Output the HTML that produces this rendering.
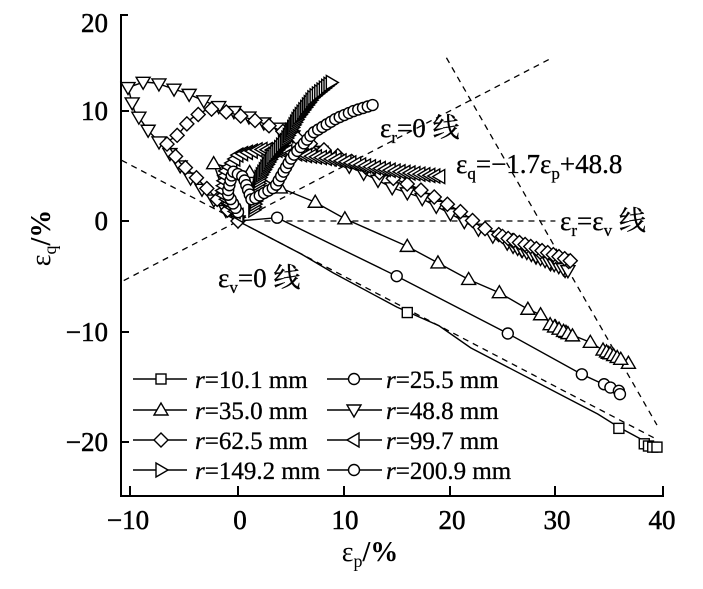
<!DOCTYPE html>
<html><head><meta charset="utf-8"><style>
html,body{margin:0;padding:0;background:#fff;}
svg{display:block;font-family:"Liberation Serif","Noto Serif CJK SC",serif;}
</style></head><body>
<svg id="s" width="703" height="589" viewBox="0 0 703 589" xmlns="http://www.w3.org/2000/svg">
<g id="plot" fill="none" stroke="#000" stroke-width="1.4"></g>
<g stroke="#000" stroke-width="2" fill="none">
<polyline points="128,15 121,15 121,496 663,496 663,486"/>
<line x1="121" y1="111" x2="129" y2="111"/><line x1="121" y1="221" x2="129" y2="221"/>
<line x1="121" y1="332" x2="129" y2="332"/><line x1="121" y1="442" x2="129" y2="442"/>
<line x1="130" y1="496" x2="130" y2="486"/><line x1="238" y1="496" x2="238" y2="486"/>
<line x1="344" y1="496" x2="344" y2="486"/><line x1="450" y1="496" x2="450" y2="486"/>
<line x1="555" y1="496" x2="555" y2="486"/>
</g>
<g font-size="27" fill="#000" stroke="#000" stroke-width="0.5" text-anchor="end">
<text x="108" y="32">20</text><text x="108" y="120">10</text><text x="108" y="230">0</text>
<text x="108" y="341">−10</text><text x="108" y="451">−20</text>
</g>
<g font-size="27" fill="#000" stroke="#000" stroke-width="0.5" text-anchor="middle">
<text x="128" y="529">−10</text><text x="240" y="529">0</text><text x="345" y="529">10</text>
<text x="452" y="529">20</text><text x="557" y="529">30</text><text x="662" y="529">40</text>
</g>
<text x="370" y="561" font-size="28" text-anchor="middle">ε<tspan font-size="18" dy="6">p</tspan><tspan dy="-6" font-weight="bold">/%</tspan></text>
<text transform="translate(50,238) rotate(-90)" font-size="28" text-anchor="middle">ε<tspan font-size="18" dy="6">q</tspan><tspan dy="-6" font-weight="bold">/%</tspan></text>
<g font-size="27" fill="#000" stroke="#000" stroke-width="0.3">
<text x="380" y="137">ε<tspan font-size="17" dy="6">r</tspan><tspan dy="-6">=0 线</tspan></text>
<text x="456" y="173">ε<tspan font-size="17" dy="6">q</tspan><tspan dy="-6">=−1.7ε</tspan><tspan font-size="17" dy="6">p</tspan><tspan dy="-6">+48.8</tspan></text>
<text x="560" y="230">ε<tspan font-size="17" dy="6">r</tspan><tspan dy="-6">=ε</tspan><tspan font-size="17" dy="6">v</tspan><tspan dy="-6"> 线</tspan></text>
<text x="218" y="287">ε<tspan font-size="17" dy="6">v</tspan><tspan dy="-6">=0 线</tspan></text>
</g>
<g font-size="25" fill="#000" stroke="#000" stroke-width="0.3">
<text x="195" y="388"><tspan font-style="italic">r</tspan>=10.1 mm</text>
<text x="386" y="388"><tspan font-style="italic">r</tspan>=25.5 mm</text>
<text x="195" y="419"><tspan font-style="italic">r</tspan>=35.0 mm</text>
<text x="386" y="419"><tspan font-style="italic">r</tspan>=48.8 mm</text>
<text x="195" y="449"><tspan font-style="italic">r</tspan>=62.5 mm</text>
<text x="386" y="449"><tspan font-style="italic">r</tspan>=99.7 mm</text>
<text x="195" y="479"><tspan font-style="italic">r</tspan>=149.2 mm</text>
<text x="386" y="479"><tspan font-style="italic">r</tspan>=200.9 mm</text>
</g>
</svg>
<script>
(function(){
var NS="http://www.w3.org/2000/svg",g=document.getElementById("plot");
function X(v){return 238+10.58*v;} function Y(v){return 221-11.03*v;}
function el(n,a){var e=document.createElementNS(NS,n);for(var k in a)e.setAttribute(k,a[k]);g.appendChild(e);return e;}
function pl(pts,dash){el("polyline",{points:pts.map(function(p){return X(p[0])+","+Y(p[1]);}).join(" "),"stroke-dasharray":dash?"6,5":"none","stroke-width":dash?"1.3":"1.4"});}
function mk(t,x,y){
 if(t=="sq")el("rect",{x:x-5,y:y-5,width:10,height:10,fill:"#fff"});
 else if(t=="ci")el("circle",{cx:x,cy:y,r:5.5,fill:"#fff"});
 else{var p;
  if(t=="up")p=[[x,y-7],[x-7,y+5],[x+7,y+5]];
  if(t=="dn")p=[[x,y+7],[x-7,y-5],[x+7,y-5]];
  if(t=="lt")p=[[x-7,y],[x+5,y-7],[x+5,y+7]];
  if(t=="rt")p=[[x+7,y],[x-5,y-7],[x-5,y+7]];
  if(t=="di")p=[[x,y-7],[x+7,y],[x,y+7],[x-7,y]];
  el("polygon",{points:p.join(" "),fill:"#fff"});}
}
function series(t,pts,step,line){
 if(line)pl(pts);
 var acc=step;
 for(var i=0;i<pts.length-1;i++){
  var x1=X(pts[i][0]),y1=Y(pts[i][1]),x2=X(pts[i+1][0]),y2=Y(pts[i+1][1]);
  var d=Math.hypot(x2-x1,y2-y1);var pos=step-acc;
  while(pos<=d){mk(t,x1+(x2-x1)*pos/d,y1+(y2-y1)*pos/d);pos+=step;}
  acc=d-(pos-step);
 }
}
pl([[-10.8,-5.4],[29.7,14.8]],1);
pl([[-11,5.5],[0,0],[39.6,-19.8]],1);
pl([[2.5,0],[30,0]],1);
pl([[19.7,14.8],[39.6,-18.5]],1);
pl([[0,0],[6,-3],[9,-4.7],[15,-7.8],[19,-9.5],[22,-11.5],[34,-17.5],[36,-18.7],[39.5,-20.5]]);
[[16,-8.3],[36,-18.8],[38.4,-20.2],[38.8,-20.4],[39.2,-20.5],[39.6,-20.5]].forEach(function(p){mk("sq",X(p[0]),Y(p[1]));});
pl([[0,0],[3.7,0.3],[15,-5],[25.5,-10.2],[32.5,-13.9],[35,-15],[36,-15.5]]);
[[3.7,0.3],[15,-5],[25.5,-10.2],[32.5,-13.9],[34.6,-14.8],[35.2,-15.1],[36,-15.4],[36.1,-15.7]].forEach(function(p){mk("ci",X(p[0]),Y(p[1]));});
var t35=[[0,0],[-1.5,3],[-2.3,5.2],[1.1,4.4],[4,3],[7.3,1.7],[10.1,0.2],[16,-2.3],[18.9,-3.8],[21.8,-5.3],[24.7,-6.5],[27.4,-8],[28.6,-8.5],[30,-9.6],[31,-10.1],[33.3,-11],[35,-12],[36.9,-12.9]];
pl(t35);
t35.slice(2).forEach(function(p){mk("up",X(p[0]),Y(p[1]));});
series("up",[[29.5,-9.4],[32,-10.6]],5);series("up",[[34.5,-11.7],[36.5,-12.7]],4);
var t48=[[0,0],[-1.2,1],[-3,2.5],[-4.6,4],[-6.6,6.3],[-8.4,8.1],[-9.8,10],[-10.4,12.1],[-8.9,12.6],[-7.7,12.5],[-6.2,12],[-4.9,11.6],[-3,10.8],[-1.9,10.4],[0.6,9.6],[2.1,9],[3.9,8.4],[7.1,6.7],[10,5.2],[13.2,3.7],[14.6,3],[17.1,2.2],[18.2,1.6],[20,0.7],[22.2,-0.5],[25,-1.8],[28,-3.2],[31.4,-4.7]];
series("dn",t48,16,true);series("dn",[[26,-2.3],[31.4,-4.6]],5);
var t62=[[0,0],[-2,2],[-4,4],[-5.5,5.3],[-6.8,7.1],[-5.7,7.8],[-4.4,9.3],[-2.8,10.2],[-0.7,9.8],[2,9],[4.3,8.1],[8.7,6.2],[13.3,4.4],[16.9,3],[19.1,1.9],[21.3,0.7],[22.9,-0.5],[26,-1.8],[29,-3],[31.7,-3.8]];
series("di",t62,15,true);series("di",[[25,-1.4],[31.7,-3.7]],6);
var t99=[[0,0.5],[-1.5,2.5],[-1.2,4.5],[0,6],[2,6.5],[4,6.4],[6,6],[9,5.6],[12,5],[15,4.5],[19.3,4]];
series("lt",t99,5,true);
var t149=[[1.5,1],[2.1,4],[3.2,5.8],[4.5,7.3],[5.7,9.4],[7.1,11.2],[9,12.7]];
series("rt",t149,3,true);
var t200=[[0,0.8],[-1,2.5],[-0.5,4.5],[0.5,4],[1.3,1.9],[3.5,3.1],[5.1,5.8],[7.1,8],[9.3,9.3],[11,10],[13,10.6]];
series("ci",t200,5,true);
var rows=[379,410,440,470];
var types=[["sq","ci"],["up","dn"],["di","lt"],["rt","ci"]];
for(var r=0;r<4;r++){var y=rows[r];
 el("line",{x1:133,y1:y,x2:187,y2:y});mk(types[r][0],161,y);
 el("line",{x1:327,y1:y,x2:382,y2:y});mk(types[r][1],354,y);}
})();
</script>
</body></html>
